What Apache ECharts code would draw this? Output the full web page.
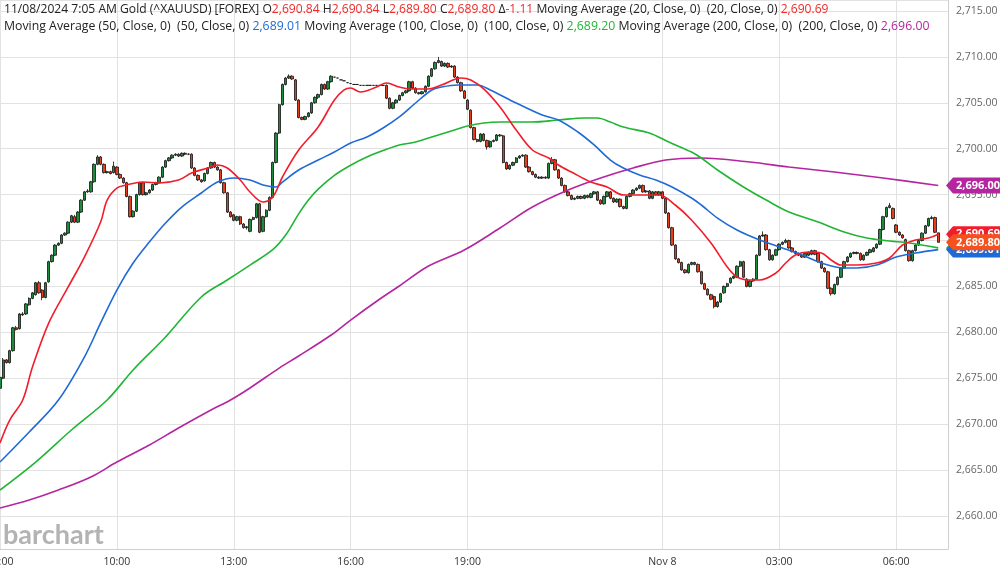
<!DOCTYPE html>
<html>
<head>
<meta charset="utf-8">
<script src="https://cdn.jsdelivr.net/npm/echarts@6/dist/echarts.min.js"></script>
<style>
html,body{margin:0;padding:0;background:#fff;}
#chart{width:1000px;height:572px;}
</style>
</head>
<body>
<div id="chart"></div>
<script>
// 5-minute slots from 07:00 (Nov 7) ; 293 slots on the axis
const slotCount = 293;
const tickSlots = [0, 36, 72, 108, 144, 204, 240, 276];
const tickLabels = ['07:00', '10:00', '13:00', '16:00', '19:00', 'Nov 8', '03:00', '06:00'];

// candles: [open, close, low, high]
const candles = [
[2673.9,2675.1,2673.7,2675.2],[2675.0,2677.0,2674.9,2677.2],[2677.0,2676.7,2676.6,2677.1],[2676.7,2678.0,2676.6,2678.1],
[2678.0,2680.5,2677.9,2680.6],[2680.5,2680.3,2680.2,2680.7],[2680.4,2682.0,2680.3,2682.1],[2682.0,2681.9,2681.8,2682.2],
[2682.0,2683.1,2681.9,2683.2],[2683.0,2683.7,2682.9,2683.8],[2683.7,2684.3,2683.6,2684.4],[2684.1,2685.4,2684.0,2685.5],
[2685.4,2684.3,2684.2,2685.6],[2684.6,2683.8,2683.5,2684.7],[2683.8,2685.4,2683.7,2685.5],[2685.5,2687.7,2685.4,2687.8],
[2687.7,2688.4,2687.6,2688.5],[2688.4,2689.5,2688.3,2689.6],[2689.5,2689.7,2689.4,2689.8],[2689.7,2690.6,2689.6,2690.7],
[2690.6,2690.8,2690.5,2690.9],[2690.8,2692.0,2690.7,2692.1],[2692.0,2692.7,2691.9,2692.8],[2692.6,2692.0,2691.9,2692.8],
[2692.0,2693.1,2691.9,2693.2],[2693.1,2694.4,2693.0,2694.5],[2694.4,2695.3,2694.3,2695.4],[2695.3,2695.4,2695.2,2695.6],
[2695.3,2696.4,2695.2,2696.5],[2696.4,2698.3,2696.3,2698.4],[2698.3,2699.1,2698.2,2699.3],[2699.1,2698.3,2698.2,2699.2],
[2698.3,2697.4,2697.3,2698.4],[2697.4,2697.5,2697.3,2697.6],[2697.5,2697.3,2697.2,2697.6],[2697.4,2698.1,2697.3,2698.6],
[2698.0,2697.2,2697.1,2698.1],[2697.2,2696.8,2696.7,2697.3],[2696.8,2696.3,2696.2,2696.9],[2696.3,2694.8,2694.7,2696.4],
[2694.8,2692.6,2692.5,2694.9],[2692.6,2693.2,2692.5,2693.3],[2693.2,2695.0,2693.1,2695.1],[2695.0,2696.3,2694.9,2696.4],
[2696.3,2695.0,2694.9,2696.4],[2695.0,2695.2,2694.9,2695.3],[2695.2,2695.5,2695.1,2695.6],[2695.5,2696.1,2695.4,2696.2],
[2696.1,2696.3,2696.0,2696.4],[2696.3,2696.9,2696.2,2697.0],[2696.9,2698.0,2696.8,2698.1],[2698.0,2698.7,2697.9,2698.8],
[2698.7,2699.0,2698.6,2699.1],[2699.0,2699.3,2698.9,2699.4],[2699.3,2699.4,2699.2,2699.5],[2699.4,2699.2,2699.1,2699.5],
[2699.2,2699.5,2699.1,2699.6],[2699.5,2699.4,2699.3,2699.6],[2699.4,2699.4,2699.3,2699.5],[2699.4,2697.9,2697.8,2699.5],
[2697.9,2697.1,2697.0,2698.0],[2697.1,2696.6,2696.5,2697.2],[2696.6,2696.4,2696.3,2696.7],[2696.5,2697.3,2696.4,2697.4],
[2697.3,2697.9,2697.2,2698.0],[2697.9,2698.5,2697.8,2698.6],[2698.5,2698.0,2697.9,2698.6],[2698.0,2697.7,2697.6,2698.1],
[2697.7,2696.3,2696.2,2697.8],[2696.3,2695.2,2695.1,2696.4],[2695.2,2693.1,2693.0,2695.3],[2693.1,2692.6,2692.5,2693.2],
[2692.8,2692.2,2692.1,2692.9],[2692.2,2692.6,2692.1,2692.7],[2692.6,2691.8,2691.7,2692.7],[2691.8,2691.4,2691.3,2691.9],
[2691.4,2691.5,2691.2,2691.6],[2691.0,2692.3,2690.9,2692.4],[2692.3,2692.5,2692.2,2692.6],[2692.5,2694.0,2692.4,2694.1],
[2694.0,2690.9,2690.8,2694.1],[2691.0,2692.6,2690.9,2692.7],[2692.6,2693.3,2692.5,2693.4],[2693.3,2694.7,2693.2,2694.8],
[2694.7,2698.5,2694.6,2698.6],[2698.5,2701.7,2698.4,2701.8],[2701.7,2704.8,2701.6,2704.9],[2704.8,2707.0,2704.7,2707.1],
[2707.0,2707.7,2706.9,2707.8],[2707.7,2707.9,2707.6,2708.1],[2707.9,2707.6,2707.5,2708.0],[2707.5,2705.3,2705.2,2707.6],
[2705.3,2703.4,2703.3,2705.4],[2703.4,2703.2,2703.1,2703.5],[2703.2,2703.5,2703.1,2703.6],[2703.5,2703.9,2703.4,2704.0],
[2703.9,2705.0,2703.8,2705.1],[2705.0,2705.6,2704.9,2705.7],[2705.6,2705.9,2705.4,2706.0],[2705.9,2707.0,2705.8,2707.1],
[2707.0,2706.5,2706.4,2707.1],[2706.5,2707.3,2706.4,2707.4],[2707.3,2707.9,2707.2,2708.0],
[2707.8,2707.8,2707.8,2707.8],[2707.7,2707.7,2707.7,2707.7],[2707.5,2707.5,2707.5,2707.5],[2707.4,2707.4,2707.4,2707.4],
[2707.2,2707.2,2707.2,2707.2],[2707.1,2707.1,2707.1,2707.1],[2707.0,2707.0,2707.0,2707.0],[2707.0,2707.0,2707.0,2707.0],
[2706.9,2706.9,2706.9,2706.9],[2706.9,2706.9,2706.9,2706.9],[2706.9,2706.9,2706.9,2706.9],[2706.9,2706.9,2706.9,2706.9],
[2706.9,2706.9,2706.9,2706.9],[2706.9,2706.9,2706.9,2706.9],[2706.9,2706.9,2706.9,2706.9],[2706.9,2706.9,2706.9,2706.9],
[2706.9,2705.5,2705.4,2707.0],[2705.5,2704.4,2704.3,2705.6],[2704.4,2705.0,2704.3,2705.1],[2705.0,2705.3,2704.9,2705.4],
[2705.3,2705.8,2705.2,2705.9],[2705.8,2706.1,2705.7,2706.2],[2706.1,2706.3,2706.0,2706.4],[2706.3,2707.3,2706.2,2707.4],
[2707.3,2706.6,2706.5,2707.4],[2706.6,2706.1,2706.0,2706.7],[2706.1,2706.0,2705.9,2706.2],[2706.0,2706.2,2705.9,2706.3],
[2706.2,2706.8,2706.1,2706.9],[2706.8,2707.9,2706.7,2708.0],[2707.9,2708.7,2707.8,2708.8],[2708.7,2709.4,2708.6,2709.5],
[2709.4,2709.6,2709.3,2710.0],[2709.5,2709.0,2708.9,2709.6],[2709.0,2709.3,2708.9,2709.4],[2709.3,2708.9,2708.8,2709.4],
[2708.9,2709.0,2708.8,2709.1],[2709.0,2707.8,2707.7,2709.1],[2707.8,2707.2,2707.1,2707.9],[2707.2,2706.3,2706.2,2707.3],
[2706.3,2705.5,2705.4,2706.4],[2705.3,2704.3,2704.2,2705.4],[2704.2,2702.3,2702.2,2704.3],[2702.3,2701.0,2700.9,2702.4],
[2701.0,2700.8,2700.7,2701.1],[2700.8,2701.6,2700.7,2701.7],[2701.6,2700.9,2700.8,2701.7],[2700.9,2700.2,2699.9,2701.0],
[2700.2,2700.8,2700.1,2700.9],[2700.8,2700.9,2700.7,2701.0],[2700.9,2701.5,2700.8,2701.6],[2701.5,2701.4,2701.3,2701.6],
[2701.4,2698.5,2698.4,2701.5],[2698.5,2697.8,2697.7,2698.6],[2697.8,2698.2,2697.7,2698.3],[2698.2,2698.5,2698.1,2698.6],
[2698.5,2699.0,2698.4,2699.1],[2699.0,2699.2,2698.9,2699.3],[2699.2,2699.3,2699.1,2699.4],[2699.3,2698.0,2697.9,2699.4],
[2698.0,2697.5,2697.4,2698.1],[2697.5,2697.2,2697.1,2697.6],[2697.2,2696.9,2696.8,2697.3],[2696.9,2696.8,2696.7,2697.0],
[2696.8,2696.9,2696.7,2697.0],[2696.9,2696.8,2696.7,2697.0],[2696.8,2698.4,2696.7,2698.5],[2698.4,2698.8,2698.3,2699.1],
[2698.8,2697.7,2697.6,2698.9],[2697.7,2696.8,2696.7,2697.8],[2696.8,2696.0,2695.9,2696.9],[2696.0,2695.3,2695.2,2696.1],
[2695.3,2694.9,2694.8,2695.4],[2694.9,2694.5,2694.4,2695.0],[2694.5,2694.6,2694.4,2694.7],[2694.6,2694.8,2694.5,2694.9],
[2694.8,2694.6,2694.5,2694.9],[2694.6,2694.9,2694.5,2695.0],[2694.9,2694.7,2694.6,2695.0],[2694.7,2695.1,2694.6,2695.2],
[2695.1,2695.3,2695.0,2695.4],[2695.3,2694.4,2694.3,2695.4],[2694.4,2694.0,2693.9,2694.5],[2694.0,2694.8,2693.9,2694.9],
[2694.8,2695.3,2694.7,2695.4],[2695.3,2694.6,2694.5,2695.4],[2694.6,2694.2,2694.1,2694.7],[2694.2,2694.5,2694.1,2694.6],
[2694.5,2693.7,2693.6,2694.6],[2693.7,2693.5,2693.4,2693.8],[2693.5,2694.8,2693.4,2694.9],[2694.8,2695.1,2694.7,2695.2],
[2695.1,2695.5,2695.0,2695.6],[2695.5,2695.7,2695.4,2695.8],[2695.7,2696.0,2695.6,2696.1],[2696.0,2695.3,2695.2,2696.1],
[2695.3,2695.4,2695.2,2695.5],[2695.4,2694.6,2694.5,2695.5],[2694.6,2695.3,2694.5,2695.4],[2695.3,2695.0,2694.9,2695.4],
[2695.0,2695.3,2694.9,2695.4],[2695.3,2694.6,2694.5,2695.4],[2694.6,2693.0,2692.9,2694.7],[2693.0,2691.4,2691.3,2693.1],
[2691.4,2689.5,2689.4,2691.5],[2689.5,2688.0,2687.9,2689.6],[2688.0,2687.6,2687.5,2688.1],[2687.6,2686.8,2686.7,2687.7],
[2686.8,2686.5,2686.4,2686.9],[2686.5,2687.4,2686.4,2687.5],[2687.4,2687.6,2687.3,2687.7],[2687.6,2687.4,2687.3,2687.7],
[2687.4,2686.6,2686.5,2687.5],[2686.6,2685.3,2685.2,2686.7],[2685.3,2684.7,2684.6,2685.4],[2684.7,2684.1,2684.0,2684.8],
[2684.1,2683.6,2683.5,2684.2],[2683.9,2682.8,2682.6,2684.0],[2682.8,2683.3,2682.7,2683.4],[2683.3,2684.2,2683.2,2684.3],
[2684.3,2685.0,2684.2,2685.1],[2685.0,2685.3,2684.9,2685.4],[2685.4,2685.9,2685.3,2686.0],[2685.9,2686.1,2685.8,2686.2],
[2686.0,2687.2,2685.9,2687.3],[2687.2,2687.7,2687.1,2687.8],[2687.7,2686.0,2685.9,2687.8],[2685.8,2685.0,2684.9,2685.9],
[2685.0,2685.6,2684.9,2685.7],[2685.6,2685.8,2685.5,2685.9],[2685.8,2688.4,2685.7,2688.5],[2688.4,2690.5,2688.3,2690.6],
[2690.5,2690.6,2690.4,2691.0],[2690.6,2689.0,2688.9,2690.7],[2689.0,2687.9,2687.8,2689.1],[2687.9,2688.4,2687.8,2688.5],
[2688.4,2689.0,2688.3,2689.1],[2689.0,2689.6,2688.9,2689.7],[2689.6,2689.8,2689.5,2689.9],[2689.8,2690.0,2689.7,2690.2],
[2690.0,2689.2,2689.1,2690.1],[2689.2,2688.8,2688.7,2689.3],[2688.8,2688.6,2688.5,2688.9],[2688.6,2688.4,2688.3,2688.7],
[2688.4,2688.2,2688.1,2688.5],[2688.2,2688.6,2688.1,2688.7],[2688.4,2688.7,2688.3,2688.8],[2688.5,2688.9,2688.4,2689.0],
[2688.9,2688.5,2688.4,2689.0],[2688.6,2687.7,2687.6,2688.7],[2687.7,2687.0,2686.9,2687.8],[2687.0,2686.6,2686.5,2687.1],
[2686.6,2684.8,2684.7,2686.7],[2684.8,2684.2,2684.0,2684.9],[2684.2,2685.2,2684.1,2685.3],[2685.2,2686.0,2685.1,2686.1],
[2686.0,2687.0,2685.9,2687.1],[2687.0,2687.7,2686.9,2687.8],[2687.7,2688.2,2687.6,2688.3],[2688.2,2688.6,2688.1,2688.7],
[2688.6,2688.7,2688.5,2688.8],[2688.7,2688.6,2688.5,2688.8],[2688.6,2687.9,2687.8,2688.7],[2687.9,2688.4,2687.8,2688.5],
[2688.4,2688.7,2688.3,2688.8],[2688.7,2689.0,2688.6,2689.1],[2688.8,2689.2,2688.7,2689.3],[2689.2,2689.6,2689.1,2689.7],
[2689.6,2691.2,2689.5,2691.3],[2691.2,2692.6,2691.1,2692.7],[2692.6,2693.6,2692.5,2693.7],[2693.6,2693.8,2693.5,2694.1],
[2693.5,2692.4,2692.3,2693.6],[2691.7,2690.9,2690.8,2691.8],[2690.9,2690.6,2690.5,2691.0],[2690.6,2690.3,2690.2,2690.7],
[2690.1,2688.9,2688.8,2690.2],[2688.9,2687.8,2687.7,2689.0],[2687.8,2688.9,2687.7,2689.0],[2688.9,2689.5,2688.8,2689.6],
[2689.5,2690.0,2689.4,2690.1],[2690.0,2690.8,2689.9,2690.9],[2690.8,2691.6,2690.7,2691.7],[2691.6,2692.4,2691.5,2692.5],
[2692.4,2692.5,2692.3,2692.7],[2692.5,2690.9,2690.8,2692.6],[2690.84,2689.80,2689.80,2690.84]
];

// moving averages: [slot, value]
const ma20 = [[0,2667.94],[3,2670.45],[7,2672.63],[10,2676.22],[15,2681.01],[21,2684.94],[26,2688.20],[31,2692.02],[33,2694.41],[36,2695.72],[39,2696.05],[44,2696.37],[49,2696.27],[55,2696.59],[59,2697.35],[64,2697.90],[67,2698.23],[70,2697.90],[74,2696.59],[77,2695.29],[81,2694.20],[84,2694.74],[87,2696.92],[92,2699.86],[98,2702.37],[103,2705.31],[106,2706.40],[108,2706.61],[111,2706.18],[116,2706.72],[119,2707.16],[123,2706.72],[126,2706.51],[132,2706.51],[136,2706.94],[142,2707.70],[145,2707.49],[149,2706.51],[154,2704.54],[159,2702.04],[164,2699.86],[169,2698.99],[172,2698.23],[176,2697.46],[182,2696.37],[187,2695.83],[192,2694.96],[196,2694.96],[203,2694.96],[208,2693.87],[213,2692.24],[219,2689.73],[224,2687.12],[227,2686.03],[231,2685.70],[234,2685.70],[239,2686.46],[242,2687.55],[245,2688.42],[249,2688.75],[253,2688.64],[256,2687.88],[259,2687.33],[264,2687.33],[270,2687.55],[274,2688.10],[278,2689.51],[282,2690.06],[286,2690.27],[289,2690.69]];
const ma50 = [[0,2665.87],[9,2669.14],[18,2672.63],[26,2677.31],[31,2681.02],[36,2684.61],[41,2687.55],[46,2689.84],[51,2691.91],[56,2693.65],[62,2695.18],[67,2696.37],[72,2696.81],[77,2696.59],[81,2696.05],[85,2695.83],[87,2696.37],[92,2697.68],[98,2698.77],[103,2699.64],[108,2700.62],[113,2701.28],[118,2702.26],[123,2703.46],[128,2704.98],[133,2706.40],[136,2706.72],[141,2706.94],[147,2706.94],[151,2706.40],[159,2704.98],[167,2703.67],[172,2703.13],[178,2701.82],[183,2700.41],[188,2698.77],[192,2697.90],[197,2697.14],[202,2696.59],[207,2695.83],[213,2694.63],[216,2693.87],[221,2692.45],[227,2691.15],[234,2690.06],[241,2689.19],[247,2688.42],[253,2687.55],[260,2687.01],[264,2687.01],[270,2687.33],[276,2688.20],[282,2688.64],[289,2689.01]];
const ma100 = [[0,2662.82],[11,2665.87],[22,2669.36],[33,2672.63],[41,2675.90],[51,2679.49],[62,2683.85],[70,2685.70],[77,2687.33],[84,2689.00],[88,2690.60],[92,2692.90],[95,2694.41],[98,2695.60],[103,2697.10],[108,2698.20],[113,2699.10],[118,2699.80],[123,2700.41],[128,2700.73],[133,2701.28],[139,2701.93],[144,2702.47],[149,2702.80],[154,2702.91],[164,2702.91],[172,2703.13],[180,2703.35],[184,2703.35],[188,2702.91],[192,2702.37],[200,2701.71],[206,2700.73],[213,2699.64],[216,2698.99],[221,2697.68],[229,2695.83],[236,2694.41],[243,2693.11],[252,2692.02],[260,2690.93],[267,2690.27],[274,2689.95],[280,2689.73],[289,2689.20]];
const ma200 = [[0,2660.86],[9,2661.73],[18,2662.82],[28,2664.24],[36,2665.87],[46,2667.73],[55,2669.58],[65,2671.54],[71,2672.63],[77,2673.94],[86,2676.11],[92,2677.42],[102,2679.71],[108,2681.34],[117,2683.63],[123,2685.05],[132,2687.22],[143,2688.97],[154,2691.36],[164,2693.65],[175,2695.50],[185,2696.81],[195,2697.90],[205,2698.77],[216,2698.99],[231,2698.55],[243,2698.01],[257,2697.46],[272,2696.81],[289,2696.00]];

const colors = {up:'#1f8a3c', down:'#e2401c', ma20:'#f21d2b', ma50:'#1f6ad6', ma100:'#21b534', ma200:'#b4259f', last:'#f4511e', red:'#ee2a2a'};

// categories (time of each 5-minute slot)
const categories = [];
for (let i = 0; i < slotCount; i++) {
  const m = (7 * 60 + 5 * i) % 1440;
  categories.push(String(Math.floor(m / 60)).padStart(2, '0') + ':' + String(m % 60).padStart(2, '0'));
}

const fmt = v => v.toLocaleString('en-US', {minimumFractionDigits: 2, maximumFractionDigits: 2});
const last = a => a[a.length - 1][1];
const lastCandle = candles[candles.length - 1];

const FONT = '"Open Sans", "Noto Sans", sans-serif';
const mk = (size, color) => ({fontFamily: FONT, fontSize: size, fontWeight: 'normal', color: color});
const rich = {
  k: mk(12.1, '#222'), r: mk(12.1, colors.red),
  k2: mk(12.3, '#222'), b: mk(12.3, colors.ma50), g: mk(12.3, colors.ma100), p: mk(12.3, colors.ma200)
};
const header =
  '{k|11/08/2024 7:05 AM Gold (^XAUUSD) [FOREX] O}{r|' + fmt(lastCandle[0]) + '}{k| H}{r|' + fmt(lastCandle[3]) +
  '}{k| L}{r|' + fmt(lastCandle[2]) + '}{k| C}{r|' + fmt(lastCandle[1]) + '}{k| Δ}{r|-1.11}' +
  '{k| Moving Average (20, Close, 0)  (20, Close, 0) }{r|' + fmt(last(ma20)) + '}\n' +
  '{k2|Moving Average (50, Close, 0)  (50, Close, 0) }{b|' + fmt(last(ma50)) + '}' +
  '{k2| Moving Average (100, Close, 0)  (100, Close, 0) }{g|' + fmt(last(ma100)) + '}' +
  '{k2| Moving Average (200, Close, 0)  (200, Close, 0) }{p|' + fmt(last(ma200)) + '}';

const chart = echarts.init(document.getElementById('chart'));
const lineSeries = (name, data, color) => ({
  name, type: 'line', data, smooth: 0.35, showSymbol: false, symbol: 'none', z: 5,
  lineStyle: {color, width: 1.6}, itemStyle: {color}, animation: false
});

chart.setOption({
  backgroundColor: '#fff',
  animation: false,
  title: {
    text: header, left: 4, top: 1, padding: 0,
    textStyle: {rich, lineHeight: 17, fontSize: 12, fontWeight: 'normal', fontFamily: FONT}
  },
  grid: {left: 0, right: 52, top: 0, bottom: 23, containLabel: false, outerBoundsMode: 'none'},
  xAxis: {
    type: 'category', data: categories, boundaryGap: false,
    axisLine: {show: true, lineStyle: {color: '#cfcfcf'}},
    axisTick: {show: false},
    axisLabel: {
      interval: (idx) => tickSlots.indexOf(idx) >= 0,
      formatter: (val, idx) => tickLabels[tickSlots.indexOf(idx)] || '',
      color: '#333', fontSize: 10.5, fontFamily: FONT, margin: 8
    },
    splitLine: {show: true, interval: (idx) => tickSlots.indexOf(idx) >= 0, lineStyle: {color: '#e2e2e2', width: 1}}
  },
  yAxis: {
    type: 'value', position: 'right', scale: true,
    min: 2656.40, max: 2716.20, splitNumber: 12,
    axisLine: {show: true, lineStyle: {color: '#cfcfcf'}},
    axisTick: {show: false},
    axisLabel: {
      showMinLabel: false, showMaxLabel: false,
      formatter: v => fmt(v), color: '#666', fontSize: 10.5, fontFamily: FONT, margin: 8
    },
    splitLine: {show: true, lineStyle: {color: '#e2e2e2', width: 1}}
  },
  series: [
    {
      name: 'Gold', type: 'candlestick', data: candles, barWidth: 2.9, z: 3,
      itemStyle: {color: colors.up, color0: colors.down, borderColor: '#111', borderColor0: '#111', borderColorDoji: '#111', borderWidth: 0.8}
    },
    lineSeries('MA200', ma200, colors.ma200),
    lineSeries('MA100', ma100, colors.ma100),
    lineSeries('MA50', ma50, colors.ma50),
    lineSeries('MA20', ma20, colors.ma20)
  ]
});

// price tags on the right axis, positioned through the axis scale
const tags = [
  {v: last(ma200), c: colors.ma200},
  {v: last(ma100), c: colors.ma100},
  {v: last(ma50), c: colors.ma50},
  {v: last(ma20), c: colors.ma20},
  {v: lastCandle[1], c: colors.last}
];
const graphics = [];
tags.forEach((t, i) => {
  const y = chart.convertToPixel({yAxisIndex: 0}, t.v);
  graphics.push({
    type: 'polygon', z: 100 + i * 2,
    shape: {points: [[946, y], [953, y - 8], [1000, y - 8], [1000, y + 8], [953, y + 8]]},
    style: {fill: t.c}
  });
  graphics.push({
    type: 'text', z: 101 + i * 2,
    style: {text: fmt(t.v), x: 956, y: y, verticalAlign: 'middle', align: 'left', fill: '#fff', font: 'bold 11px ' + FONT}
  });
});
graphics.push({
  type: 'text', left: 3, top: 522, z: 50,
  style: {text: 'barchart', fill: '#b3b3b3', font: 'bold 27px Lato, "Open Sans", sans-serif'}
});
chart.setOption({graphic: graphics});
</script>
</body>
</html>
